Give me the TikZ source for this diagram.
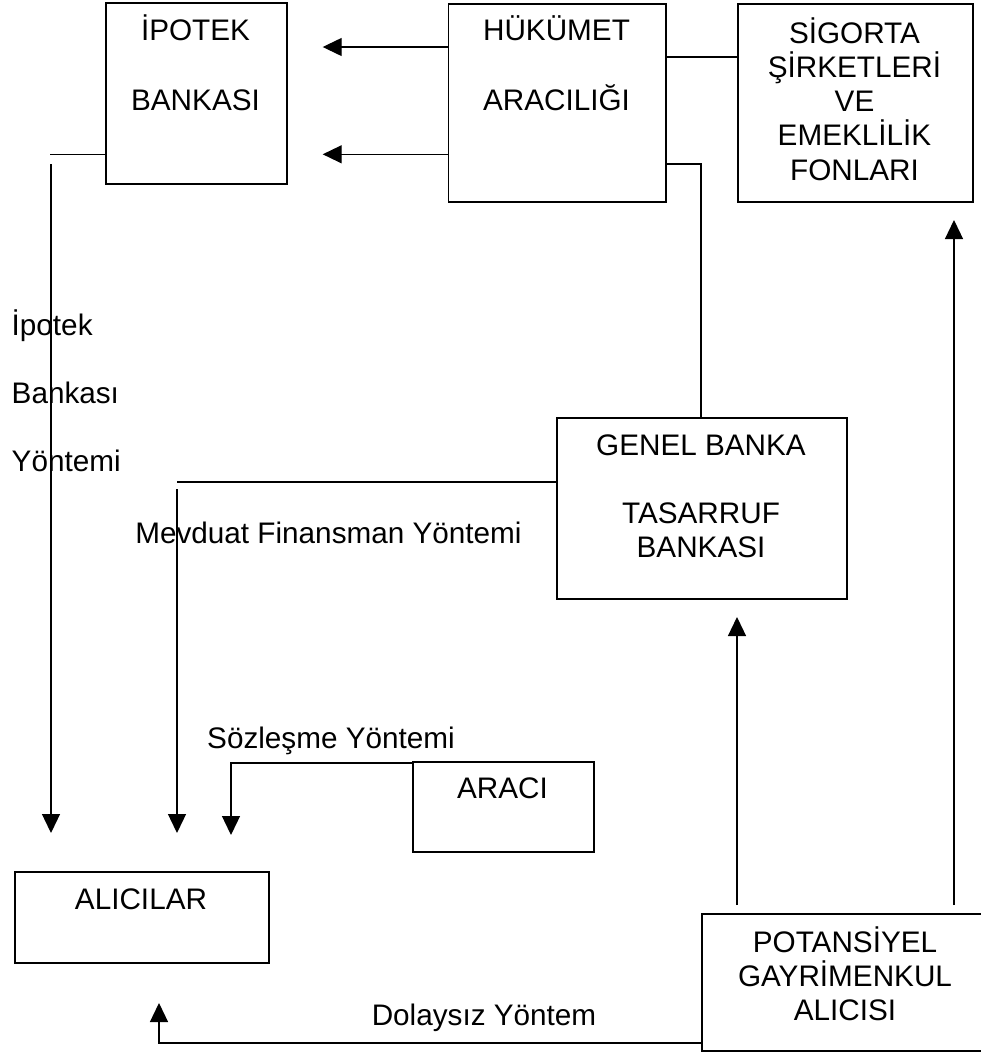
\documentclass[tikz,border=0pt]{standalone}
\usepackage{fontspec}
\setmainfont{Liberation Sans}
\usetikzlibrary{arrows.meta}
\begin{document}
\begin{tikzpicture}[x=1pt,y=-1pt,
  box/.style={draw, line width=1.6pt, inner sep=0pt, anchor=north west},
  txt/.style={anchor=base, inner sep=0pt, font=\fontsize{29.7}{34.3}\selectfont},
  link/.style={line width=1.3pt},
  arr/.style={line width=1.3pt, -{Triangle[length=19pt,width=18pt]}}
]
\useasboundingbox (0,0) rectangle (981,1053);
\clip (0,0) rectangle (981,1053);

% boxes
\node[box, minimum width=181pt, minimum height=181pt] (ipotek) at (105,2) {};
\node[box, minimum width=217.3pt, minimum height=198pt] (hukumet) at (447.7,3) {};
\node[box, minimum width=235pt, minimum height=198pt] (sigorta) at (737,3) {};
\node[box, minimum width=290pt, minimum height=181pt] (genel) at (556,417) {};
\node[box, minimum width=181pt, minimum height=90pt] (araci) at (412,761) {};
\node[box, minimum width=254pt, minimum height=91pt] (alicilar) at (14,871) {};
\node[box, minimum width=288pt, minimum height=137pt] (potansiyel) at (701,913) {};

% box texts
\node[txt] (ipotekA) at (195.5,40) {İPOTEK};
\node[txt] (ipotekB) at (195.5,110) {BANKASI};
\node[txt] (hukumetA) at (556.5,40) {HÜKÜMET};
\node[txt] (hukumetB) at (556.5,110) {ARACILIĞI};
\node[txt] (sigortaA) at (854.5,43) {SİGORTA};
\node[txt] (sigortaB) at (854.5,77.3) {ŞİRKETLERİ};
\node[txt] (sigortaC) at (854.5,111.6) {VE};
\node[txt] (sigortaD) at (854.5,145.9) {EMEKLİLİK};
\node[txt] (sigortaE) at (854.5,180.2) {FONLARI};
\node[txt] (genelA) at (701,455) {GENEL BANKA};
\node[txt] (genelB) at (701,523.5) {TASARRUF};
\node[txt] (genelC) at (701,557.8) {BANKASI};
\node[txt] (araciA) at (502.5,798) {ARACI};
\node[txt] (alicilarA) at (141,909) {ALICILAR};
\node[txt] (potA) at (845,952) {POTANSİYEL};
\node[txt] (potB) at (845,986.3) {GAYRİMENKUL};
\node[txt] (potC) at (845,1020.6) {ALICISI};

% method labels
\node[txt, anchor=base west] (lblA) at (11.5,335) {İpotek};
\node[txt, anchor=base west] (lblB) at (11.5,403) {Bankası};
\node[txt, anchor=base west] (lblC) at (11.5,471) {Yöntemi};
\node[txt] (lblMevduat) at (328.5,543) {Mevduat Finansman Yöntemi};
\node[txt] (lblSozlesme) at (331,748) {Sözleşme Yöntemi};
\node[txt] (lblDolaysiz) at (484,1025) {Dolaysız Yöntem};

% connector points
\coordinate (tipA) at (322.7,47);
\coordinate (tipB) at (322.7,154.3);
\coordinate (ySig) at (0,57);
\coordinate (bendG) at (701,164);
\coordinate (ipEnd) at (50,154.3);
\coordinate (ipTop) at (51,164);
\coordinate (tipC) at (51,833);
\coordinate (gEnd) at (177,482);
\coordinate (gTop) at (177,489);
\coordinate (tipD) at (177,833);
\coordinate (aBend) at (231,763);
\coordinate (tipE) at (231,835);
\coordinate (pA) at (737,905);
\coordinate (tipF) at (737,617);
\coordinate (pB) at (954,905);
\coordinate (tipG) at (954,220);
\coordinate (dBend) at (159,1043);
\coordinate (tipH) at (159,1003);

% connectors
\draw[arr] (hukumet.west |- tipA) -- (tipA);
\draw[arr] (hukumet.west |- tipB) -- (tipB);
\draw[link] (hukumet.east |- ySig) -- (sigorta.west |- ySig);
\draw[link] (hukumet.east |- bendG) -- (bendG) -- (genel.north -| bendG);
\draw[link] (ipotek.west |- ipEnd) -- (ipEnd);
\draw[arr] (ipTop) -- (tipC);
\draw[link] (genel.west |- gEnd) -- (gEnd);
\draw[arr] (gTop) -- (tipD);
\draw[arr] (araci.west |- aBend) -- (aBend) -- (tipE);
\draw[arr] (pA) -- (tipF);
\draw[arr] (pB) -- (tipG);
\draw[arr] (potansiyel.west |- dBend) -- (dBend) -- (tipH);
\end{tikzpicture}
\end{document}
